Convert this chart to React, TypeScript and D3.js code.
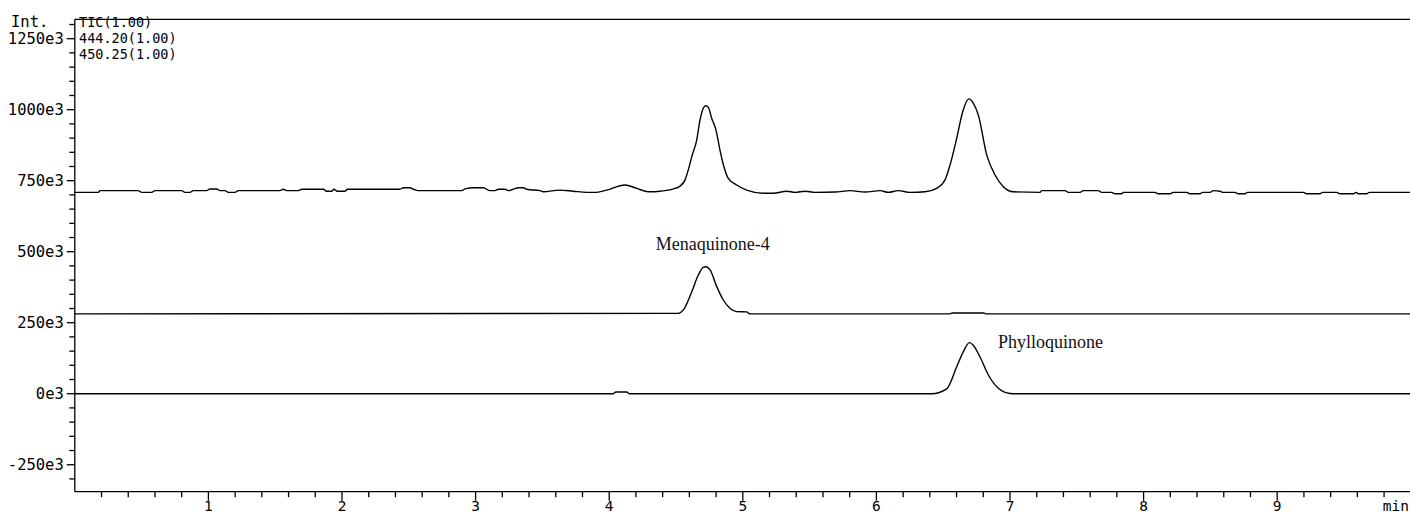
import { useMemo } from "react";
import * as d3 from "d3";

const WIDTH = 1410;
const HEIGHT = 512;
const PLOT = { left: 74.8, right: 1410.8, top: 19.3, bottom: 491.7 };
const MONO = "'DejaVu Sans Mono', monospace";
const SERIF = "'Liberation Serif', 'Times New Roman', serif";

// x in minutes, y in e3 counts
const timeDomain: [number, number] = [0, 10];
const intDomain: [number, number] = [-345, 1318.3];

const traceNames = ["TIC(1.00)", "444.20(1.00)", "450.25(1.00)"];
const yMajorTicks = [-250, 0, 250, 500, 750, 1000, 1250];
const xMajorTicks = [1, 2, 3, 4, 5, 6, 7, 8, 9];

const ticPoints: [number, number][] = [
  [0.0, 709], [0.176, 709], [0.189, 715], [0.475, 715], [0.501, 709], [0.576, 709],
  [0.6, 715], [0.8, 715], [0.825, 709], [0.862, 709], [0.887, 715], [0.987, 715],
  [1.012, 721], [1.062, 721], [1.087, 715], [1.124, 715], [1.149, 709], [1.199, 709],
  [1.224, 715], [1.536, 715], [1.561, 720], [1.586, 715], [1.673, 715], [1.698, 720],
  [1.86, 720], [1.885, 713], [1.923, 713], [1.94, 720], [1.965, 713], [2.022, 713],
  [2.04, 720], [2.434, 720], [2.459, 725], [2.509, 725], [2.534, 720], [2.571, 715],
  [2.896, 715], [2.921, 721], [2.983, 725], [3.058, 725], [3.108, 715], [3.145, 715],
  [3.17, 720], [3.22, 720], [3.245, 715], [3.282, 720], [3.32, 725], [3.357, 725],
  [3.383, 720], [3.482, 715], [3.507, 711], [3.632, 717], [3.731, 713], [3.832, 709],
  [3.906, 709], [3.981, 717], [4.118, 735], [4.206, 723], [4.293, 711], [4.38, 713],
  [4.48, 721], [4.53, 731], [4.567, 752], [4.592, 788], [4.618, 835], [4.655, 893],
  [4.68, 964], [4.704, 1005], [4.722, 1014], [4.742, 1008], [4.767, 970], [4.799, 929],
  [4.829, 858], [4.859, 799], [4.891, 758], [4.954, 735], [5.029, 717], [5.153, 706],
  [5.228, 706], [5.329, 713], [5.391, 709], [5.466, 713], [5.541, 709], [5.69, 710],
  [5.803, 715], [5.915, 710], [6.027, 715], [6.089, 709], [6.164, 715], [6.251, 709],
  [6.364, 711], [6.451, 723], [6.513, 752], [6.551, 805], [6.601, 899], [6.646, 993],
  [6.693, 1038], [6.725, 1023], [6.763, 981], [6.826, 840], [6.888, 770], [6.95, 729],
  [7.025, 711], [7.225, 709], [7.237, 715], [7.412, 715], [7.437, 709], [7.524, 709],
  [7.549, 715], [7.661, 715], [7.686, 709], [7.761, 709], [7.786, 704], [7.836, 704],
  [7.848, 709], [8.085, 709], [8.11, 704], [8.198, 704], [8.222, 709], [8.323, 709],
  [8.347, 704], [8.422, 704], [8.442, 709], [8.497, 709], [8.522, 715], [8.572, 713],
  [8.597, 709], [8.684, 709], [8.709, 704], [8.759, 704], [8.777, 709], [9.196, 709],
  [9.221, 704], [9.32, 704], [9.341, 709], [9.445, 709], [9.47, 704], [9.57, 704],
  [9.59, 709], [9.607, 704], [9.67, 704], [9.69, 709], [10.0, 709],
];

const mk4Points: [number, number][] = [
  [0.0, 281], [4.517, 283], [4.555, 295], [4.618, 359], [4.667, 418], [4.704, 445],
  [4.722, 447], [4.754, 437], [4.805, 377], [4.854, 330], [4.904, 301], [4.954, 289],
  [5.029, 288], [5.054, 281], [6.55, 281], [6.57, 284], [6.8, 284], [6.82, 281],
  [10.0, 281],
];

const phyPoints: [number, number][] = [
  [0.0, 0], [4.03, 0], [4.05, 6], [4.13, 6], [4.15, 0], [6.414, 0], [6.526, 17],
  [6.601, 95], [6.651, 148], [6.696, 180], [6.725, 171], [6.775, 130], [6.838, 66],
  [6.913, 19], [7.0, 1], [7.05, 0], [10.0, 0],
];

const peakNames = ["Menaquinone-4", "Phylloquinone"];
const peakAnchors: [number, number][] = [[4.775, 506], [6.91, 160]];

export default function App() {
  const { x, y } = useMemo(() => {
    const x = d3.scaleLinear().domain(timeDomain).range([PLOT.left, PLOT.right]);
    const y = d3.scaleLinear().domain(intDomain).range([PLOT.bottom, PLOT.top]);
    return { x, y };
  }, []);

  const line = d3
    .line<[number, number]>()
    .x((d) => x(d[0]))
    .y((d) => y(d[1]))
    .curve(d3.curveMonotoneX);

  const yMinor = d3.range(-300, 1301, 50).filter((v) => v % 250 !== 0);
  const xMinor = d3
    .range(1, 50)
    .map((i) => i / 5)
    .filter((v) => Math.abs(v - Math.round(v)) > 1e-6);

  return (
    <svg
      width={WIDTH}
      height={HEIGHT}
      style={{ position: "absolute", left: 0, top: 0, background: "#fff" }}
    >
      {/* frame */}
      <line x1={PLOT.left} x2={WIDTH} y1={PLOT.top} y2={PLOT.top} stroke="#000" strokeWidth={1.3} />
      <line x1={PLOT.left} x2={PLOT.left} y1={PLOT.top} y2={PLOT.bottom} stroke="#000" strokeWidth={1.3} />
      <line x1={PLOT.left} x2={WIDTH} y1={PLOT.bottom} y2={PLOT.bottom} stroke="#000" strokeWidth={1.3} />

      {/* y axis */}
      {yMajorTicks.map((v) => (
        <g key={`ym${v}`}>
          <line x1={PLOT.left - 8} x2={PLOT.left} y1={y(v)} y2={y(v)} stroke="#000" strokeWidth={1.3} />
          <text
            x={PLOT.left - 11}
            y={y(v)}
            dy="0.36em"
            textAnchor="end"
            fontFamily={MONO}
            fontSize={15.5}
            fill="#000"
          >
            {`${v}e3`}
          </text>
        </g>
      ))}
      {yMinor.map((v) => (
        <line key={`yn${v}`} x1={PLOT.left - 5.5} x2={PLOT.left} y1={y(v)} y2={y(v)} stroke="#000" strokeWidth={1.3} />
      ))}
      <text x={11} y={26.7} fontFamily={MONO} fontSize={15.5} fill="#000">
        Int.
      </text>

      {/* x axis */}
      {xMinor.map((v) => (
        <line key={`xn${v}`} x1={x(v)} x2={x(v)} y1={PLOT.bottom} y2={PLOT.bottom + 5.5} stroke="#000" strokeWidth={1.3} />
      ))}
      {xMajorTicks.map((v) => (
        <g key={`xm${v}`}>
          <line x1={x(v)} x2={x(v)} y1={PLOT.bottom} y2={PLOT.bottom + 9} stroke="#000" strokeWidth={1.3} />
          <text x={x(v)} y={510.5} textAnchor="middle" fontFamily={MONO} fontSize={14.5} fill="#000">
            {v}
          </text>
        </g>
      ))}
      <text x={WIDTH - 1} y={510.5} textAnchor="end" fontFamily={MONO} fontSize={14.5} fill="#000">
        min
      </text>

      {/* trace names */}
      {traceNames.map((n, i) => (
        <text key={n} x={79} y={26.7 + i * 16} fontFamily={MONO} fontSize={13.5} fill="#000">
          {n}
        </text>
      ))}

      {/* traces */}
      {[ticPoints, mk4Points, phyPoints].map((pts, i) => (
        <path key={i} d={line(pts) ?? ""} fill="none" stroke="#000" strokeWidth={1.4} strokeLinejoin="round" />
      ))}

      {/* peak labels */}
      <text
        x={x(peakAnchors[0][0])}
        y={y(peakAnchors[0][1])}
        textAnchor="middle"
        fontFamily={SERIF}
        fontSize={18}
        fill="#111"
      >
        {peakNames[0]}
      </text>
      <text
        x={x(peakAnchors[1][0])}
        y={y(peakAnchors[1][1])}
        fontFamily={SERIF}
        fontSize={18}
        fill="#111"
      >
        {peakNames[1]}
      </text>
    </svg>
  );
}
